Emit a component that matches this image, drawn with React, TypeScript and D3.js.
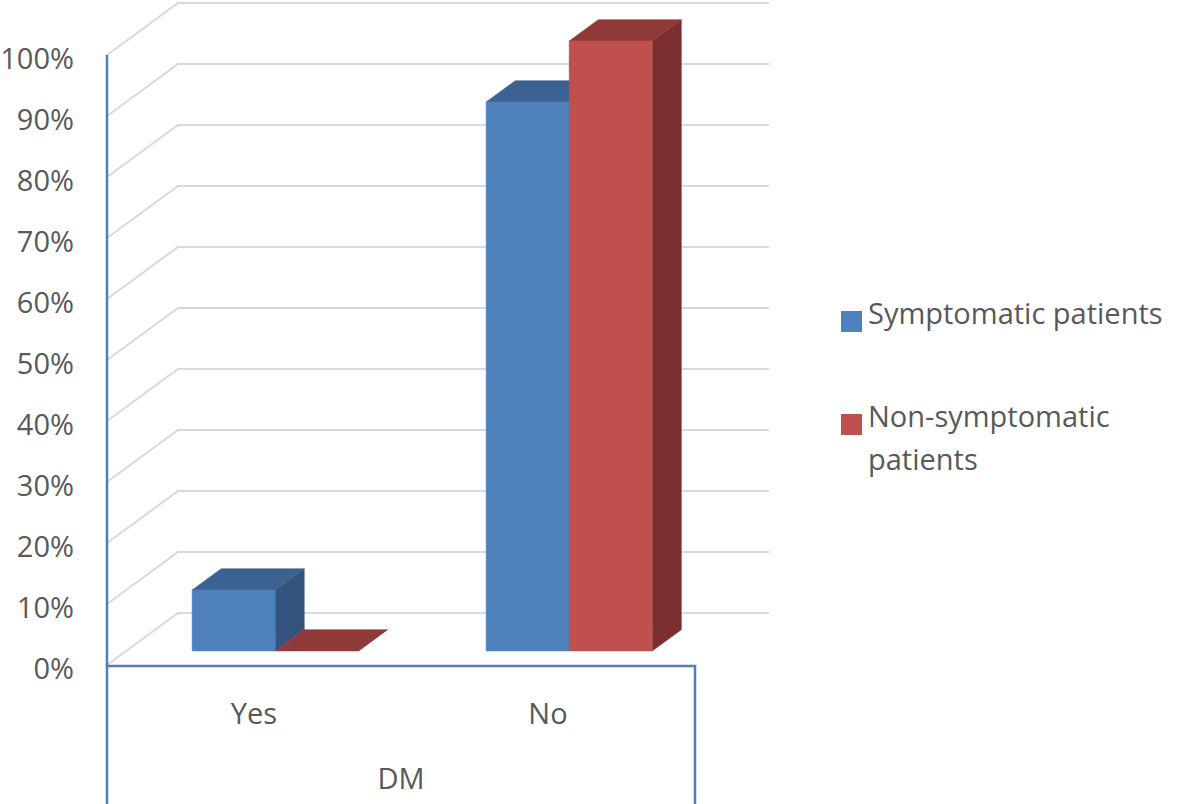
import { useEffect, useRef } from 'react';
import * as d3 from 'd3';

const categories = ['Yes', 'No'];
const groupLabel = 'DM';
const seriesNames = ['Symptomatic patients', 'Non-symptomatic patients'];
const symptomatic = [0.1, 0.9];
const nonSymptomatic = [0, 1];
const yTicks = [0, 0.1, 0.2, 0.3, 0.4, 0.5, 0.6, 0.7, 0.8, 0.9, 1];

const colors = [
  { front: '#4f81bd', top: '#3b6291', side: '#34537c' },
  { front: '#c0504d', top: '#8f3a38', side: '#7a2e2d' },
];

const Chart3D = ({ w, h }: { w: number; h: number }) => {
  const svgRef = useRef<SVGSVGElement>(null);

  useEffect(() => {
    const svg = d3.select(svgRef.current).attr('width', w).attr('height', h);
    svg.selectAll('*').remove();

    // plot frame (front plane) and depth offset of the 3D box
    const left = 107, right = 695, bottom = 665, top = 55;
    const depthX = 71, depthY = 52;
    const barD0 = 0.27, barD1 = 0.68;
    const barShift = 2;

    const yScale = d3.scaleLinear().domain([0, 1]).range([bottom, top]);
    const xScale = d3.scaleBand().domain(categories).range([left, right]).padding(0);
    const inner = d3.scaleBand().domain(seriesNames).range([0, xScale.bandwidth()])
      .paddingInner(0).paddingOuter(0.77);

    const proj = (x: number, v: number, d: number): [number, number] =>
      [x + d * depthX, yScale(v) - d * depthY];

    const grid = '#d9d9d9';
    const axisBlue = '#4f7fba';
    const textColor = '#595959';
    const font = '"Open Sans", sans-serif';

    // back wall gridlines + side wall diagonals
    yTicks.forEach(t => {
      const a = proj(left, t, 0), b = proj(left, t, 1), c = proj(right, t, 1);
      svg.append('polyline')
        .attr('points', [a, b, [c[0] + 3, c[1]]].map(p => p.join(',')).join(' '))
        .attr('fill', 'none')
        .attr('stroke', grid)
        .attr('stroke-width', 2);
    });

    // bars
    const seriesData = [symptomatic, nonSymptomatic];
    categories.forEach((cat, ci) => {
      seriesNames.forEach((s, si) => {
        const v = seriesData[si][ci];
        const x0 = (xScale(cat) as number) + (inner(s) as number) + barShift;
        const x1 = x0 + inner.bandwidth();
        const col = colors[si];
        const poly = (pts: [number, number][], fill: string) =>
          svg.append('polygon')
            .attr('points', pts.map(p => p.join(',')).join(' '))
            .attr('fill', fill)
            .attr('stroke', fill)
            .attr('stroke-width', 0.5);

        // right side
        poly([proj(x1, 0, barD0), proj(x1, 0, barD1), proj(x1, v, barD1), proj(x1, v, barD0)], col.side);
        // top
        poly([proj(x0, v, barD0), proj(x1, v, barD0), proj(x1, v, barD1), proj(x0, v, barD1)], col.top);
        // front
        if (v > 0) {
          poly([proj(x0, 0, barD0), proj(x1, 0, barD0), proj(x1, v, barD0), proj(x0, v, barD0)], col.front);
        }
      });
    });

    // value axis line
    svg.append('line')
      .attr('x1', left).attr('x2', left)
      .attr('y1', yScale(1)).attr('y2', bottom + 2)
      .attr('stroke', axisBlue).attr('stroke-width', 2.5);

    // category axis box
    svg.append('path')
      .attr('d', `M${left},${h} V${bottom + 1} H${right} V${h}`)
      .attr('fill', 'none')
      .attr('stroke', axisBlue)
      .attr('stroke-width', 2.5);

    // tick labels
    svg.append('g')
      .selectAll('text')
      .data(yTicks)
      .join('text')
      .attr('x', 74)
      .attr('y', d => yScale(d) + 14)
      .attr('text-anchor', 'end')
      .attr('font-family', font)
      .attr('font-size', 29)
      .attr('fill', textColor)
      .text(d => d3.format('.0%')(d));

    svg.append('g')
      .selectAll('text')
      .data(categories)
      .join('text')
      .attr('x', d => (xScale(d) as number) + xScale.bandwidth() / 2)
      .attr('y', 724)
      .attr('text-anchor', 'middle')
      .attr('font-family', font)
      .attr('font-size', 29)
      .attr('fill', textColor)
      .text(d => d);

    svg.append('text')
      .attr('x', (left + right) / 2)
      .attr('y', 789)
      .attr('text-anchor', 'middle')
      .attr('font-family', font)
      .attr('font-size', 29)
      .attr('fill', textColor)
      .text(groupLabel);

    // legend
    const legendLines = [['Symptomatic patients'], ['Non-symptomatic', 'patients']];
    const legendY = [311, 414];
    legendLines.forEach((lines, i) => {
      svg.append('rect')
        .attr('x', 841).attr('y', legendY[i])
        .attr('width', 21).attr('height', 21)
        .attr('fill', colors[i].front);
      lines.forEach((line, li) => {
        svg.append('text')
          .attr('x', 868)
          .attr('y', legendY[i] + 13 + li * 43)
          .attr('font-family', font)
          .attr('font-size', 29)
          .attr('fill', textColor)
          .text(line);
      });
    });
  }, [w, h]);

  return <svg ref={svgRef}></svg>;
};

export default function App() {
  return (
    <div style={{ position: 'absolute', left: 0, top: 0, background: '#fff' }}>
      <Chart3D w={1182} h={804} />
    </div>
  );
}
